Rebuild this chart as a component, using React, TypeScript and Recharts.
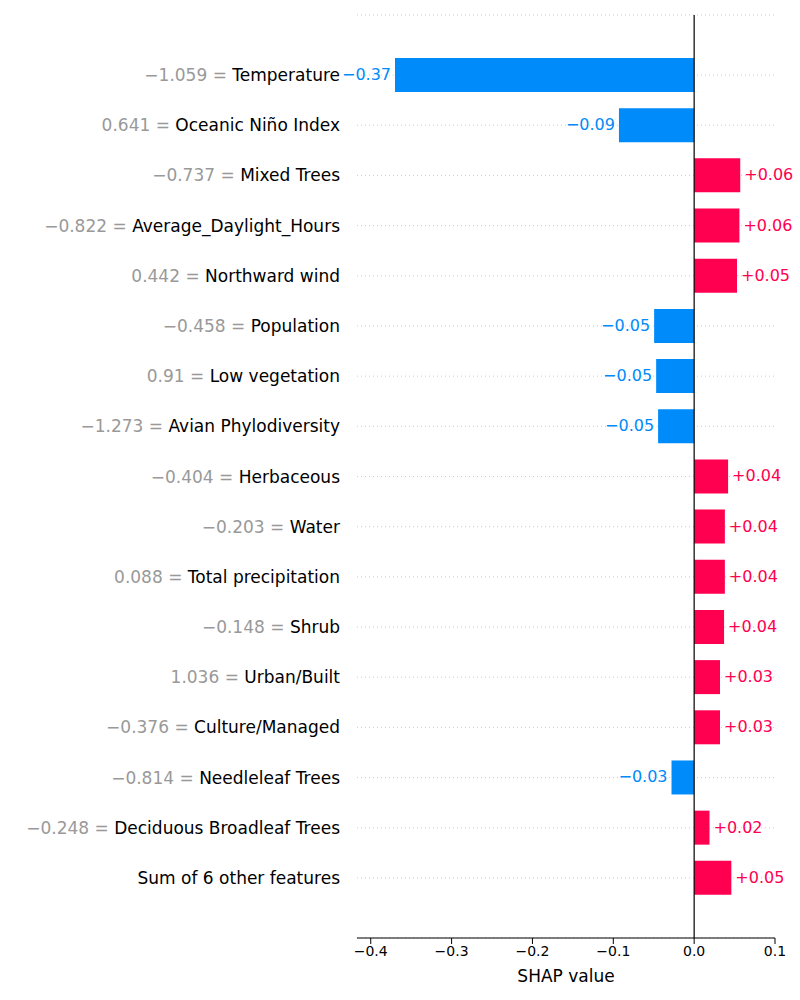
import { BarChart, Bar, XAxis, YAxis, CartesianGrid, ReferenceLine, Cell, LabelList } from "recharts";

const featureNames = [
  "Temperature", "Oceanic Niño Index", "Mixed Trees", "Average_Daylight_Hours", "Northward wind",
  "Population", "Low vegetation", "Avian Phylodiversity", "Herbaceous", "Water",
  "Total precipitation", "Shrub", "Urban/Built", "Culture/Managed", "Needleleaf Trees",
  "Deciduous Broadleaf Trees", "Sum of 6 other features",
];
const featureValues = [
  "−1.059", "0.641", "−0.737", "−0.822", "0.442", "−0.458", "0.91", "−1.273", "−0.404",
  "−0.203", "0.088", "−0.148", "1.036", "−0.376", "−0.814", "−0.248", "",
];
const shapValues = [
  -0.37, -0.093, 0.057, 0.056, 0.053, -0.0495, -0.047, -0.0446, 0.042, 0.038, 0.038, 0.037,
  0.032, 0.032, -0.028, 0.019, 0.046,
];
const shapLabels = [
  "−0.37", "−0.09", "+0.06", "+0.06", "+0.05", "−0.05", "−0.05", "−0.05", "+0.04", "+0.04",
  "+0.04", "+0.04", "+0.03", "+0.03", "−0.03", "+0.02", "+0.05",
];
const xTicks = [-0.4, -0.3, -0.2, -0.1, 0.0, 0.1];

const BLUE = "#008bfb";
const RED = "#ff0051";
const FONT = "DejaVu Sans";

const rows = featureNames.map((name, i) => ({
  name,
  featureValue: featureValues[i],
  shap: shapValues[i],
  label: shapLabels[i],
}));

function FeatureTick({ x, y, payload }: any) {
  const row = rows[payload.index];
  return (
    <text x={x - 9} y={y} dy={6} textAnchor="end" fontFamily={FONT} fontSize={17}>
      {row.featureValue ? <tspan fill="#999999">{row.featureValue} = </tspan> : null}
      <tspan fill="#000000">{row.name}</tspan>
    </text>
  );
}

function ShapLabel({ x, y, width, height, index }: any) {
  const row = rows[index];
  const neg = row.shap < 0;
  const end = x + width;
  return (
    <text
      x={neg ? end - 4 : end + 4}
      y={y + height / 2}
      dy={5}
      textAnchor={neg ? "end" : "start"}
      fill={neg ? BLUE : RED}
      fontFamily={FONT}
      fontSize={16}
    >
      {row.label}
    </text>
  );
}

export default function App() {
  return (
    <div style={{ position: "absolute", left: 0, top: 0, background: "#fff" }}>
      <BarChart
        width={800}
        height={1000}
        data={rows}
        layout="vertical"
        margin={{ top: 15, right: 25, bottom: 0, left: 0 }}
      >
        <CartesianGrid horizontal vertical={false} stroke="#cccccc" strokeDasharray="1 3" />
        <XAxis
          type="number"
          domain={[-0.417, 0.1]}
          ticks={xTicks}
          allowDataOverflow
          tickFormatter={(v: number) => (v < 0 ? "−" + Math.abs(v).toFixed(1) : v.toFixed(1))}
          tick={{ fill: "#000", fontSize: 14, fontFamily: FONT }}
          stroke="#000"
          height={62}
          label={{ value: "SHAP value", position: "insideBottom", offset: 18, fill: "#000", fontSize: 17, fontFamily: FONT }}
        />
        <YAxis
          type="category"
          dataKey="name"
          width={357}
          axisLine={false}
          tickLine={false}
          padding={{ top: 35, bottom: 35 }}
          tick={<FeatureTick />}
          interval={0}
        />
        <ReferenceLine x={0} stroke="#000" strokeWidth={1.2} />
        <Bar dataKey="shap" barSize={34} isAnimationActive={false}>
          {rows.map((r, i) => (
            <Cell key={i} fill={r.shap < 0 ? BLUE : RED} />
          ))}
          <LabelList dataKey="shap" content={<ShapLabel />} />
        </Bar>
      </BarChart>
    </div>
  );
}
